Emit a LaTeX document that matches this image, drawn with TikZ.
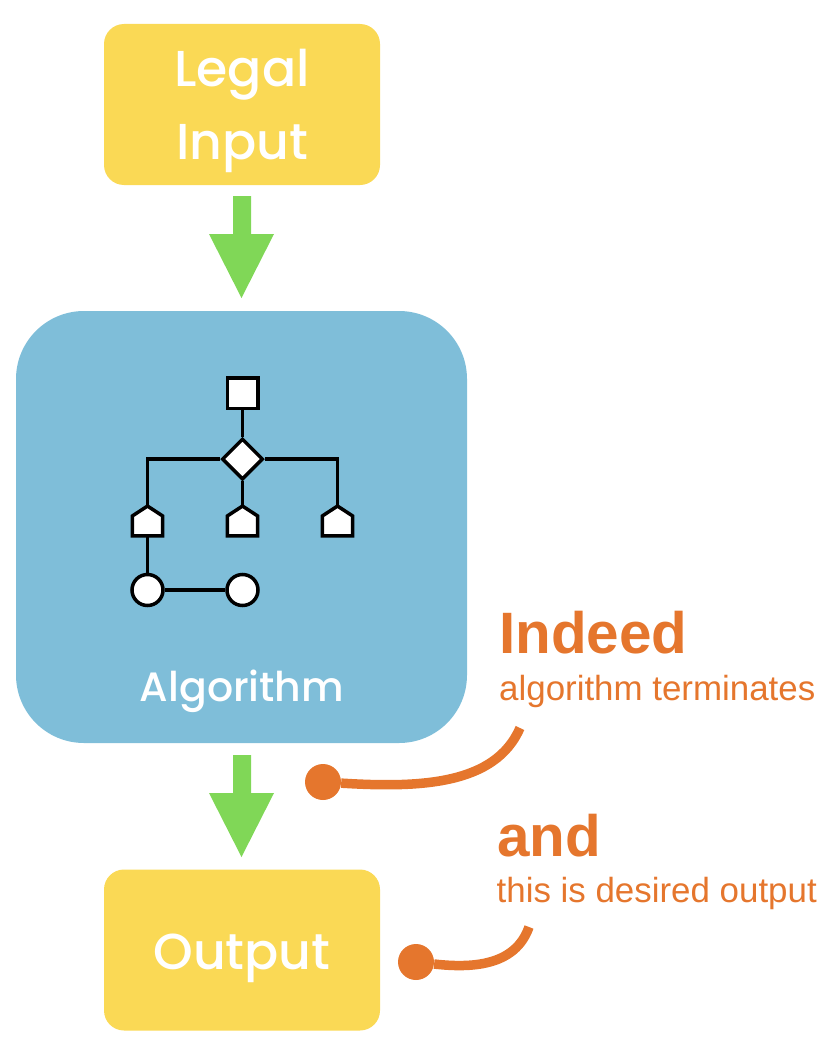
\documentclass[tikz,border=0pt]{standalone}
\usepackage{fontspec}
\setmainfont[UprightFont=* Medium]{Poppins}
\newfontfamily\labelfont{Liberation Sans}
\usetikzlibrary{positioning, shapes.geometric}
\definecolor{boxyellow}{HTML}{FAD955}
\definecolor{algblue}{HTML}{7FBED9}
\definecolor{arrowgreen}{HTML}{80D757}
\definecolor{noteorange}{HTML}{E5762D}
\begin{document}
\begin{tikzpicture}[x=1pt, y=-1pt]
    \tikzset{
        iobox/.style = {fill=boxyellow, rounded corners=20pt, minimum width=276pt, minimum height=161pt},
        ioname/.style = {text=white, font=\fontsize{50.5}{73}\selectfont, align=center},
        flownode/.style = {draw=black, line width=3.5pt, fill=white, inner sep=0pt},
        housenode/.style = {inner sep=0pt, minimum width=30pt, minimum height=29.5pt},
        flowline/.style = {draw=black, line width=3.5pt},
        flowarrow/.style = {draw=none, fill=arrowgreen},
        notehead/.style = {text=noteorange, font=\labelfont\bfseries\fontsize{58.4}{60}\selectfont, anchor=base west, inner sep=0pt},
        notetext/.style = {text=noteorange, font=\labelfont\fontsize{34.9}{36}\selectfont, anchor=base west, inner sep=0pt},
        notedot/.style = {circle, fill=noteorange, minimum size=36pt, inner sep=0pt},
        noteline/.style = {draw=noteorange, line width=9.5pt},
    }
    \useasboundingbox (0,0) rectangle (837,1057);
    \node [iobox] at (242,104.5) (input) {};
    \node [ioname] at (242,111) (inputname) {Legal\\Input};
    \node [fill=algblue, rounded corners=68pt, minimum width=451pt, minimum height=432pt] at (241.5,527) (algorithm) {};
    \node [iobox] at (242,950) (output) {};
    \node [ioname] at (242,958) (outputname) {Output};
    \node [text=white, font=\fontsize{41}{54}\selectfont] at (242,691) (algname) {Algorithm};
    % arrows
    \fill [flowarrow] (233,196) -- (251,196) -- (251,234) -- (274,234) -- (241.5,298) -- (209,234) -- (233,234) -- cycle;
    \fill [flowarrow] (233,755) -- (251,755) -- (251,793) -- (274,793) -- (241.5,857) -- (209,793) -- (233,793) -- cycle;
    % small flowchart
    \node [flownode, minimum size=30.5pt] at (242.5,393) (start) {};
    \node [flownode, diamond, minimum size=41pt] at (242.5,459) (choice) {};
    \node [housenode] at (147.5,521) (left) {};
    \node [housenode] at (242.5,521) (mid) {};
    \node [housenode] at (337.5,521) (right) {};
    \node [flownode, circle, minimum size=31pt] at (147.5,590) (c1) {};
    \node [flownode, circle, minimum size=31pt] at (242.5,590) (c2) {};
    \draw [flowline] (start) -- (choice);
    \draw [flowline] (choice) -| (left);
    \draw [flowline] (choice) -- (mid);
    \draw [flowline] (choice) -| (right);
    \draw [flowline] (left) -- (c1);
    \draw [flowline] (c1) -- (c2);
    \foreach \n in {left, mid, right}
        \draw [flowline, fill=white] (\n.south west) -- (\n.south east) -- ([yshift=5pt]\n.east) -- (\n.north) -- ([yshift=5pt]\n.west) -- cycle;
    % notes
    \node [notehead] at (499,653) (indeed) {Indeed};
    \node [notetext] at (499,700.5) (terminates) {algorithm terminates};
    \node [notehead] at (497,856) (and) {and};
    \node [notetext] at (496.5,902.5) (desired) {this is desired output};
    \node [notedot] at (323,782) (dot1) {};
    \node [notedot] at (416,962) (dot2) {};
    \coordinate (end1) at (520,728);
    \coordinate (end2) at (529,927);
    \draw [noteline] (dot1) .. controls (420,788) and (495,785) .. (end1);
    \draw [noteline] (dot2) .. controls (470,968) and (515,967) .. (end2);
\end{tikzpicture}
\end{document}
